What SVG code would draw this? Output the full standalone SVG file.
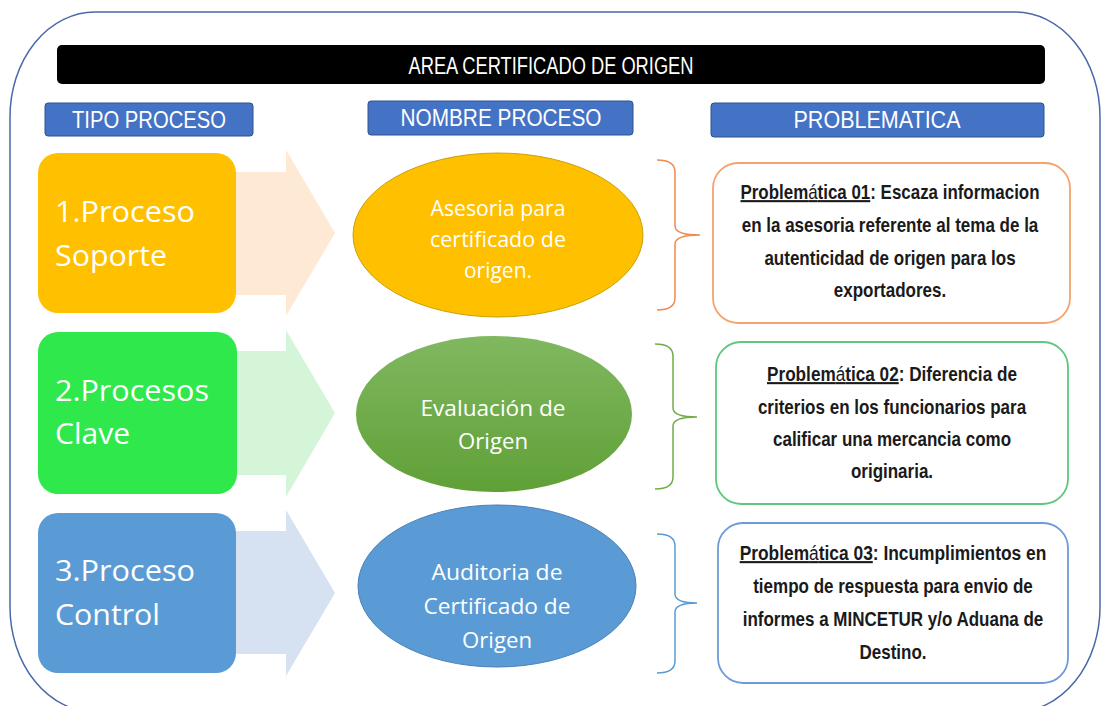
<svg xmlns="http://www.w3.org/2000/svg" width="1101" height="706" viewBox="0 0 1101 706">
<defs>
<linearGradient id="gGreen" x1="0" y1="0" x2="0" y2="1">
<stop offset="0" stop-color="#80b860"/>
<stop offset="1" stop-color="#60a037"/>
</linearGradient>
<style>
.hdr{fill:#4472c4;stroke:#2f528f;stroke-width:1}
.hdrt{font-family:"Liberation Sans Narrow","Liberation Sans",sans-serif;font-size:23px;fill:#fff;text-anchor:middle}
.lbl{font-family:"Open Sans","Liberation Sans",sans-serif;font-size:29px;fill:#fff}
.ell{font-family:"Open Sans","Liberation Sans",sans-serif;font-size:22px;fill:#fff;text-anchor:middle}
.prob{font-family:"Liberation Sans",sans-serif;font-size:21px;font-weight:bold;fill:#1a1a1a;text-anchor:middle}
.ul{text-decoration:underline}
.lt{font-weight:normal}
.brace{fill:none;stroke-width:1.5}
.pbox{fill:#fff;stroke-width:1.8}
</style>
</defs>
<rect x="10" y="12" width="1090" height="700" rx="85" ry="105" fill="#fff" stroke="#4a69a8" stroke-width="1.5"/>

<g id="title">
<rect x="57" y="45" width="988" height="39" rx="5" fill="#000"/>
<text x="551" y="74" class="hdrt" font-size="21" textLength="285" lengthAdjust="spacingAndGlyphs">AREA CERTIFICADO DE ORIGEN</text>
</g>

<g id="hdr-tipo">
<rect x="45" y="103" width="208" height="33" rx="3" class="hdr"/>
<text x="149" y="128" class="hdrt" textLength="154" lengthAdjust="spacingAndGlyphs">TIPO PROCESO</text>
</g>
<g id="hdr-nombre">
<rect x="368" y="101" width="265" height="34" rx="3" class="hdr"/>
<text x="501" y="126" class="hdrt" textLength="201" lengthAdjust="spacingAndGlyphs">NOMBRE PROCESO</text>
</g>
<g id="hdr-problematica">
<rect x="711" y="103" width="333" height="34" rx="3" class="hdr"/>
<text x="877" y="128" class="hdrt" textLength="167" lengthAdjust="spacingAndGlyphs">PROBLEMATICA</text>
</g>

<g id="connectors">
<path d="M236,172 H286 V150 L335,233 L286,316 V295 H236 Z" fill="#fde9d4"/>
<path d="M237,351 H286 V330 L335,413 L286,497 V475 H237 Z" fill="#d5f5d9"/>
<path d="M236,531 H286 V510 L335,593 L286,676 V654 H236 Z" fill="#d6e1f1"/>
<path class="brace" stroke="#f08b4e" d="M657,160 Q675,160 675,172 V226 Q675,235 700,235 Q675,235 675,244 V298 Q675,310 657,310"/>
<path class="brace" stroke="#70ad47" d="M655,344 Q673,344 673,356 V408 Q673,417 697,417 Q673,417 673,426 V477 Q673,489 655,489"/>
<path class="brace" stroke="#5b9bd5" d="M657,534 Q675,534 675,546 V594 Q675,603 697,603 Q675,603 675,612 V661 Q675,673 657,673"/>
</g>

<g id="tipo-1">
<rect x="38" y="153" width="198" height="160" rx="20" fill="#ffc000"/>
<text x="55" y="222" class="lbl" textLength="140" lengthAdjust="spacingAndGlyphs">1.Proceso</text>
<text x="55" y="266" class="lbl" textLength="112" lengthAdjust="spacingAndGlyphs">Soporte</text>
</g>
<g id="tipo-2">
<rect x="38" y="332" width="199" height="162" rx="20" fill="#2fe84b"/>
<text x="55" y="401" class="lbl" textLength="154" lengthAdjust="spacingAndGlyphs">2.Procesos</text>
<text x="55" y="444" class="lbl" textLength="75" lengthAdjust="spacingAndGlyphs">Clave</text>
</g>
<g id="tipo-3">
<rect x="38" y="513" width="198" height="160" rx="20" fill="#5b9bd5"/>
<text x="55" y="581" class="lbl" textLength="140" lengthAdjust="spacingAndGlyphs">3.Proceso</text>
<text x="55" y="625" class="lbl" textLength="105" lengthAdjust="spacingAndGlyphs">Control</text>
</g>

<g id="nombre-1">
<ellipse cx="498" cy="235" rx="145" ry="82" fill="#ffc000" stroke="#c9a10a" stroke-width="1"/>
<text x="498" y="216" class="ell" textLength="135" lengthAdjust="spacingAndGlyphs">Asesoria para</text>
<text x="498" y="247" class="ell" textLength="136" lengthAdjust="spacingAndGlyphs">certificado de</text>
<text x="498" y="278" class="ell" textLength="68" lengthAdjust="spacingAndGlyphs">origen.</text>
</g>
<g id="nombre-2">
<ellipse cx="494" cy="414" rx="138" ry="78" fill="url(#gGreen)"/>
<text x="493" y="416" class="ell" textLength="145" lengthAdjust="spacingAndGlyphs">Evaluación de</text>
<text x="493" y="449" class="ell" textLength="70" lengthAdjust="spacingAndGlyphs">Origen</text>
</g>
<g id="nombre-3">
<ellipse cx="497" cy="586" rx="139" ry="81" fill="#5b9bd5" stroke="#4a7fb8" stroke-width="1"/>
<text x="497" y="580" class="ell" textLength="131" lengthAdjust="spacingAndGlyphs">Auditoria de</text>
<text x="497" y="614" class="ell" textLength="147" lengthAdjust="spacingAndGlyphs">Certificado de</text>
<text x="497" y="648" class="ell" textLength="70" lengthAdjust="spacingAndGlyphs">Origen</text>
</g>

<g id="problema-1">
<rect x="713" y="163" width="357" height="160" rx="25" class="pbox" stroke="#f4a36e"/>
<text x="0" y="0" class="prob" transform="translate(890,199) scale(0.806,1)"><tspan class="ul">Problem</tspan><tspan class="ul lt">á</tspan><tspan class="ul">tica 01</tspan>: Escaza informacion</text>
<text x="0" y="0" class="prob" transform="translate(890,232) scale(0.81,1)">en la asesoria referente al tema de la</text>
<text x="0" y="0" class="prob" transform="translate(890,265) scale(0.81,1)">autenticidad de origen para los</text>
<text x="0" y="0" class="prob" transform="translate(890,297) scale(0.81,1)">exportadores.</text>
</g>
<g id="problema-2">
<rect x="716" y="342" width="352" height="162" rx="25" class="pbox" stroke="#5cc87a"/>
<text x="0" y="0" class="prob" transform="translate(892,381) scale(0.818,1)"><tspan class="ul">Problem</tspan><tspan class="ul lt">á</tspan><tspan class="ul">tica 02</tspan>: Diferencia de</text>
<text x="0" y="0" class="prob" transform="translate(892,414) scale(0.81,1)">criterios en los funcionarios para</text>
<text x="0" y="0" class="prob" transform="translate(892,446) scale(0.81,1)">calificar una mercancia como</text>
<text x="0" y="0" class="prob" transform="translate(892,478) scale(0.81,1)">originaria.</text>
</g>
<g id="problema-3">
<rect x="718" y="523" width="350" height="160" rx="25" class="pbox" stroke="#6f9ad8"/>
<text x="0" y="0" class="prob" transform="translate(893,560) scale(0.827,1)"><tspan class="ul">Problem</tspan><tspan class="ul lt">á</tspan><tspan class="ul">tica 03</tspan>: Incumplimientos en</text>
<text x="0" y="0" class="prob" transform="translate(893,593) scale(0.81,1)">tiempo de respuesta para envio de</text>
<text x="0" y="0" class="prob" transform="translate(893,626) scale(0.81,1)">informes a MINCETUR y/o Aduana de</text>
<text x="0" y="0" class="prob" transform="translate(893,659) scale(0.81,1)">Destino.</text>
</g>
</svg>
